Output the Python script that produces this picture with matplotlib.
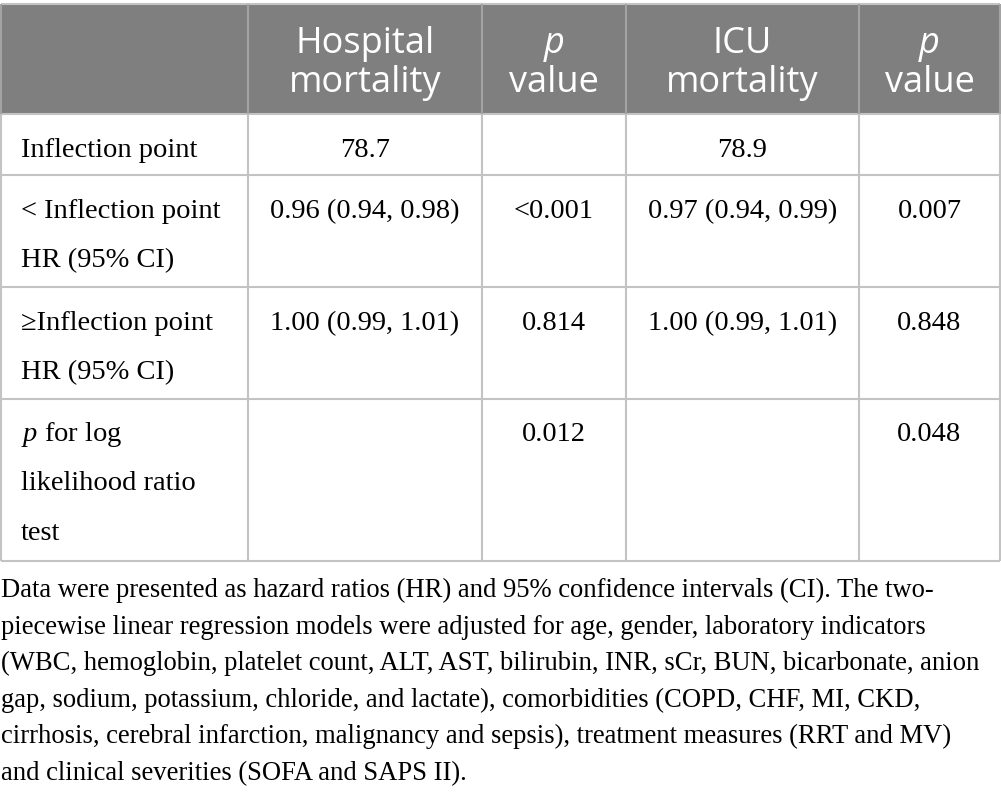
import matplotlib.pyplot as plt
from matplotlib.patches import Rectangle

plt.rcParams["mathtext.fontset"] = "custom"
plt.rcParams["mathtext.rm"] = "Liberation Serif"
plt.rcParams["mathtext.it"] = "Liberation Serif:italic"

# table content
col_heads = [["Hospital", "mortality"], ["p", "value"], ["ICU", "mortality"], ["p", "value"]]
head_italic = [[False, False], [True, False], [False, False], [True, False]]
row_labels = [
    ["Inflection point"],
    ["< Inflection point", "HR (95% CI)"],
    ["\u2265Inflection point", "HR (95% CI)"],
    ["$p$ for log", "likelihood ratio", "test"],
]
hosp_mort = ["78.7", "0.96 (0.94, 0.98)", "1.00 (0.99, 1.01)", ""]
hosp_p = ["", "<0.001", "0.814", "0.012"]
icu_mort = ["78.9", "0.97 (0.94, 0.99)", "1.00 (0.99, 1.01)", ""]
icu_p = ["", "0.007", "0.848", "0.048"]
caption = [
    "Data were presented as hazard ratios (HR) and 95% confidence intervals (CI). The two-",
    "piecewise linear regression models were adjusted for age, gender, laboratory indicators",
    "(WBC, hemoglobin, platelet count, ALT, AST, bilirubin, INR, sCr, BUN, bicarbonate, anion",
    "gap, sodium, potassium, chloride, and lactate), comorbidities (COPD, CHF, MI, CKD,",
    "cirrhosis, cerebral infarction, malignancy and sepsis), treatment measures (RRT and MV)",
    "and clinical severities (SOFA and SAPS II).",
]

# layout in pixels
xs = [1, 248, 482, 626, 859, 1000]
ys = [4, 114, 175, 287, 399, 561]
head_col = "#7f7f7f"
line_col = "#c3c3c3"
serif = "Liberation Serif"
body_fs = 20.5

fig = plt.figure(figsize=(10.01, 8.0), dpi=100)
ax = fig.add_axes([0, 0, 1, 1])
ax.set_xlim(0, 1001)
ax.set_ylim(800, 0)
ax.axis("off")

ax.add_patch(Rectangle((xs[0], ys[0]), xs[-1] - xs[0], ys[1] - ys[0],
                       facecolor=head_col, edgecolor="none"))
for y in ys:
    ax.plot([xs[0], xs[-1]], [y, y], color=line_col, lw=1.5, solid_capstyle="butt")
for x in xs:
    ax.plot([x, x], [ys[1], ys[-1]], color=line_col, lw=1.5, solid_capstyle="butt")
    ax.plot([x, x], [ys[0], ys[1]], color="#a3a3a3", lw=1.5, solid_capstyle="butt")

# header
for j, h in enumerate(col_heads):
    cx = (xs[j + 1] + xs[j + 2]) / 2
    for k, part in enumerate(h):
        ax.text(cx, 53 + 39 * k, part, ha="center", va="baseline", color="white",
                fontsize=26, family="Open Sans",
                style="italic" if head_italic[j][k] else "normal")

# body
first_base = [157, 218, 330, 441]
for i, lines in enumerate(row_labels):
    for k, t in enumerate(lines):
        ax.text(21, first_base[i] + 49.5 * k, t, ha="left", va="baseline",
                fontsize=body_fs, family=[serif, "DejaVu Serif"])
    for j, col in enumerate([hosp_mort, hosp_p, icu_mort, icu_p]):
        cx = (xs[j + 1] + xs[j + 2]) / 2
        ax.text(cx, first_base[i], col[i], ha="center", va="baseline",
                fontsize=body_fs, family=serif)

# caption
for k, t in enumerate(caption):
    ax.text(1, 597 + 36.6 * k, t, ha="left", va="baseline",
            fontsize=19.2, family=serif)

fig.savefig("out.png", dpi=100)
